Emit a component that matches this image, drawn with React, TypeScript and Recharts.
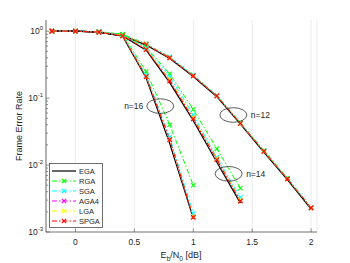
import { LineChart, Line, XAxis, YAxis, CartesianGrid, ReferenceDot } from 'recharts'

// ─── Data ─────────────────────────────────────────────────────────────────────

const EB_N0 = [-0.2, 0, 0.2, 0.4, 0.6, 0.8, 1.0, 1.2, 1.4, 1.6, 1.8, 2.0]
const X_TICKS = [0, 0.5, 1, 1.5, 2]
const Y_DECADES = [0.001, 0.01, 0.1, 1]
const Y_DECADE_EXP = ['-3', '-2', '-1', '0']

// n = 16 (up to 1.0 dB)
const EGA_16  = [1.0, 1.0, 0.97, 0.84, 0.20, 0.021, 0.0016]
const RGA_16  = [1.0, 1.0, 0.98, 0.90, 0.25, 0.040, 0.0050]
const SGA_16  = [1.0, 1.0, 0.98, 0.87, 0.22, 0.026, 0.0019]
const AGA4_16 = [1.0, 1.0, 0.97, 0.86, 0.21, 0.024, 0.0017]
const LGA_16  = [1.0, 1.0, 0.97, 0.86, 0.21, 0.024, 0.0017]
const SPGA_16 = [1.0, 1.0, 0.97, 0.85, 0.21, 0.024, 0.00165]

// n = 14 (up to 1.4 dB)
const EGA_14  = [1.0, 1.0, 0.97, 0.85, 0.52, 0.17, 0.046, 0.011, 0.0027]
const RGA_14  = [1.0, 1.0, 0.98, 0.90, 0.58, 0.23, 0.068, 0.0175, 0.0045]
const SGA_14  = [1.0, 1.0, 0.98, 0.88, 0.56, 0.21, 0.056, 0.013, 0.0033]
const AGA4_14 = [1.0, 1.0, 0.97, 0.87, 0.54, 0.19, 0.051, 0.0125, 0.0030]
const LGA_14  = [1.0, 1.0, 0.97, 0.87, 0.54, 0.19, 0.051, 0.0125, 0.0030]
const SPGA_14 = [1.0, 1.0, 0.97, 0.86, 0.53, 0.18, 0.049, 0.012, 0.0029]

// n = 12 (up to 2.0 dB)
const EGA_12  = [1.0, 1.0, 0.97, 0.86, 0.62, 0.39, 0.21, 0.105, 0.041, 0.0155, 0.0060, 0.0022]
const RGA_12  = [1.0, 1.0, 0.98, 0.90, 0.65, 0.41, 0.22, 0.110, 0.043, 0.0165, 0.0064, 0.0023]
const SGA_12  = [1.0, 1.0, 0.98, 0.88, 0.64, 0.41, 0.22, 0.109, 0.042, 0.0160, 0.0063, 0.0023]
const AGA4_12 = [1.0, 1.0, 0.98, 0.87, 0.64, 0.40, 0.215, 0.108, 0.042, 0.0160, 0.0062, 0.0023]
const LGA_12  = [1.0, 1.0, 0.98, 0.87, 0.64, 0.40, 0.215, 0.108, 0.042, 0.0160, 0.0062, 0.0023]
const SPGA_12 = [1.0, 1.0, 0.98, 0.86, 0.63, 0.40, 0.215, 0.108, 0.042, 0.0160, 0.0062, 0.0023]

// ─── Series styling ───────────────────────────────────────────────────────────

const SERIES = [
  { key: 'ega',  name: 'EGA',  color: '#000000', marker: false, n16: EGA_16,  n14: EGA_14,  n12: EGA_12 },
  { key: 'rga',  name: 'RGA',  color: '#00ff00', marker: true,  n16: RGA_16,  n14: RGA_14,  n12: RGA_12 },
  { key: 'sga',  name: 'SGA',  color: '#00ffff', marker: true,  n16: SGA_16,  n14: SGA_14,  n12: SGA_12 },
  { key: 'aga4', name: 'AGA4', color: '#ff00ff', marker: true,  n16: AGA4_16, n14: AGA4_14, n12: AGA4_12 },
  { key: 'lga',  name: 'LGA',  color: '#ffff00', marker: true,  n16: LGA_16,  n14: LGA_14,  n12: LGA_12 },
  { key: 'spga', name: 'SPGA', color: '#ff0000', marker: true,  n16: SPGA_16, n14: SPGA_14, n12: SPGA_12 },
]
const BLOCK_LENGTHS = ['12', '14', '16'] as const

const rows = EB_N0.map((x, i) => {
  const row: Record<string, number | undefined> = { x }
  SERIES.forEach(s => {
    row[`${s.key}16`] = s.n16[i]
    row[`${s.key}14`] = s.n14[i]
    row[`${s.key}12`] = s.n12[i]
  })
  return row
})

const Y_MINORS: number[] = []
Y_DECADES.slice(0, 3).forEach(d => { for (let k = 2; k <= 9; k++) Y_MINORS.push(+(d * k).toPrecision(3)) })
const Y_ALL = [...Y_DECADES, ...Y_MINORS].sort((a, b) => a - b)

const FONT = '"Liberation Sans", Arial, Helvetica, sans-serif'
const FRAME = '#4d4d4d'
const TEXT = '#262626'
const DASH = '5 2 1.5 2'

// ─── Marks & ticks ────────────────────────────────────────────────────────────

function xMarker(color: string) {
  return (p: any) => {
    const { cx, cy, index } = p
    if (cx == null || cy == null || isNaN(cy)) return <g key={index} />
    const r = 2.2
    return (
      <path key={index}
        d={`M${cx - r},${cy - r}L${cx + r},${cy + r}M${cx - r},${cy + r}L${cx + r},${cy - r}`}
        stroke={color} strokeWidth={1.1} fill="none" />
    )
  }
}

function LeftTick(p: any) {
  const { x, y, payload } = p
  const di = Y_DECADES.indexOf(payload.value)
  const major = di >= 0
  return (
    <g>
      <line x1={x} x2={x + (major ? 3.5 : 2)} y1={y} y2={y} stroke={FRAME} strokeWidth={0.6} />
      {major && (
        <text x={x - 3} y={y + 3} textAnchor="end" fontSize={8.5} fill={TEXT} fontFamily={FONT}>
          10<tspan dy={-4} fontSize={6}>{Y_DECADE_EXP[di]}</tspan>
        </text>
      )}
    </g>
  )
}

function RightTick(p: any) {
  const { x, y, payload } = p
  const major = Y_DECADES.includes(payload.value)
  return <line x1={x - (major ? 3.5 : 2)} x2={x} y1={y} y2={y} stroke={FRAME} strokeWidth={0.6} />
}

function BottomTick(p: any) {
  const { x, y, payload } = p
  return (
    <g>
      <line x1={x} x2={x} y1={y - 3.5} y2={y} stroke={FRAME} strokeWidth={0.6} />
      <text x={x} y={y + 13} textAnchor="middle" fontSize={8.5} fill={TEXT} fontFamily={FONT}>
        {payload.value}
      </text>
    </g>
  )
}

function TopTick(p: any) {
  const { x, y } = p
  return <line x1={x} x2={x} y1={y} y2={y + 3.5} stroke={FRAME} strokeWidth={0.6} />
}

function ringLabel(label: string, side: 'left' | 'right') {
  return (p: any) => {
    const { cx, cy } = p
    if (cx == null || cy == null) return <g />
    return (
      <g>
        <ellipse cx={cx} cy={cy} rx={13.5} ry={7.3} fill="none" stroke="#333" strokeWidth={0.8} />
        <text x={side === 'left' ? cx - 17 : cx + 17.5} y={cy + 3}
          textAnchor={side === 'left' ? 'end' : 'start'}
          fontSize={8.5} fill={TEXT} fontFamily={FONT}>{label}</text>
      </g>
    )
  }
}

// ─── Legend ───────────────────────────────────────────────────────────────────

function LegendBox() {
  return (
    <svg width={54} height={65} style={{ position: 'absolute', left: 49, top: 163 }}>
      <rect x={0.5} y={0.5} width={53} height={64} fill="#fff" stroke={FRAME} strokeWidth={0.8} />
      {SERIES.map((s, i) => {
        const y = 8 + i * 10
        return (
          <g key={s.key}>
            <line x1={3} x2={27} y1={y} y2={y} stroke={s.color}
              strokeWidth={s.marker ? 1 : 1.2} strokeDasharray={s.marker ? DASH : undefined} />
            {s.marker && xMarker(s.color)({ cx: 15, cy: y, index: i })}
            <text x={30} y={y + 2.8} fontSize={7.5} fill={TEXT} fontFamily={FONT}>{s.name}</text>
          </g>
        )
      })}
    </svg>
  )
}

// ─── Chart ────────────────────────────────────────────────────────────────────

export default function App() {
  return (
    <div style={{ position: 'absolute', left: 0, top: 0, width: 350, height: 263, background: '#fff' }}>
      <LineChart width={350} height={263} data={rows} margin={{ top: 20, right: 33, left: 0, bottom: 0 }}>
        <CartesianGrid xAxisId="b" yAxisId="l" stroke="#e4e4e4" strokeWidth={0.7}
          horizontalCoordinatesGenerator={({ yAxis }: any) =>
            typeof yAxis?.scale === 'function' ? Y_DECADES.map(v => yAxis.scale(v)) : []} />
        <CartesianGrid xAxisId="b" yAxisId="l" vertical={false} stroke="#d4d4d4" strokeWidth={0.6}
          strokeDasharray="1 2"
          horizontalCoordinatesGenerator={({ yAxis }: any) =>
            typeof yAxis?.scale === 'function' ? Y_MINORS.map(v => yAxis.scale(v)) : []} />

        <XAxis xAxisId="b" dataKey="x" type="number" domain={[-0.25, 2.05]} ticks={X_TICKS}
          interval={0} allowDataOverflow height={31} tickSize={0} tickMargin={0} tickLine={false}
          axisLine={{ stroke: FRAME, strokeWidth: 0.8 }} tick={BottomTick} />
        <XAxis xAxisId="t" dataKey="x" type="number" orientation="top" domain={[-0.25, 2.05]}
          ticks={X_TICKS} interval={0} allowDataOverflow height={0} tickSize={0} tickMargin={0}
          tickLine={false} axisLine={{ stroke: FRAME, strokeWidth: 0.8 }} tick={TopTick} />
        <YAxis yAxisId="l" scale="log" type="number" domain={[0.001, 1.47]} ticks={Y_ALL}
          interval={0} allowDataOverflow width={46} tickSize={0} tickMargin={0} tickLine={false}
          axisLine={{ stroke: FRAME, strokeWidth: 0.8 }} tick={LeftTick} />
        <YAxis yAxisId="r" orientation="right" scale="log" type="number" domain={[0.001, 1.47]}
          ticks={Y_ALL} interval={0} allowDataOverflow width={0} tickSize={0} tickMargin={0}
          tickLine={false} axisLine={{ stroke: FRAME, strokeWidth: 0.8 }} tick={RightTick} />

        {BLOCK_LENGTHS.flatMap(n => SERIES.map(s => (
          <Line key={`${s.key}${n}`} xAxisId="b" yAxisId="l" dataKey={`${s.key}${n}`}
            type="linear" stroke={s.color} strokeWidth={s.marker ? 1 : 1.2}
            strokeDasharray={s.marker ? DASH : undefined}
            dot={s.marker ? xMarker(s.color) : false} activeDot={false}
            isAnimationActive={false} />
        )))}

        <ReferenceDot xAxisId="b" yAxisId="l" x={0.72} y={0.076} shape={ringLabel('n=16', 'left')} />
        <ReferenceDot xAxisId="b" yAxisId="l" x={1.34} y={0.056} shape={ringLabel('n=12', 'right')} />
        <ReferenceDot xAxisId="b" yAxisId="l" x={1.30} y={0.0074} shape={ringLabel('n=14', 'right')} />
      </LineChart>

      <LegendBox />

      <svg width={350} height={263} style={{ position: 'absolute', left: 0, top: 0, pointerEvents: 'none' }}>
        <text x={181} y={258} textAnchor="middle" fontSize={9} fill={TEXT} fontFamily={FONT}>
          E<tspan dy={2.5} fontSize={6.5}>b</tspan>
          <tspan dy={-2.5}>/N</tspan>
          <tspan dy={2.5} fontSize={6.5}>0</tspan>
          <tspan dy={-2.5}> [dB]</tspan>
        </text>
        <text x={0} y={0} transform="translate(22,126) rotate(-90)" textAnchor="middle"
          fontSize={9} fill={TEXT} fontFamily={FONT}>Frame Error Rate</text>
      </svg>
    </div>
  )
}
